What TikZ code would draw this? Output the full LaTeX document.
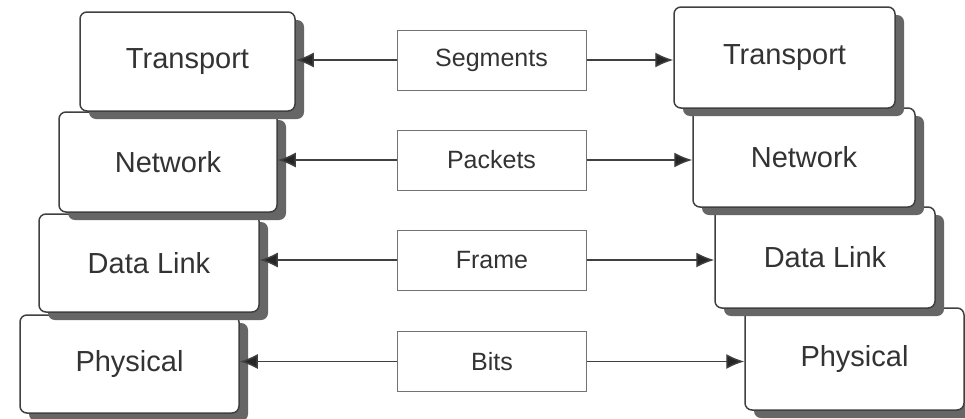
\documentclass[tikz,border=0pt]{standalone}
\usepackage{fontspec}
\setmainfont{Liberation Sans}
\usetikzlibrary{shadows,arrows.meta}
\begin{document}
\begin{tikzpicture}[x=1pt,y=-1pt,
  layer/.style={draw=black!75, line width=1.5pt, fill=white, rounded corners=7pt,
    drop shadow={shadow xshift=9pt, shadow yshift=-8pt, fill=black!60, opacity=1},
    font=\fontsize{29}{33}\selectfont, text=black!80, inner sep=0pt},
  pdu/.style={draw=black!55, line width=1pt, fill=white, minimum width=189pt, minimum height=60pt,
    font=\fontsize{25}{30}\selectfont, text=black!80, inner sep=0pt},
  link/.style={draw=black!75, line width=1.4pt, -{Latex[length=18pt,width=15pt,fill=black!85]}}]
\useasboundingbox (0,0) rectangle (965,418);
\fill[white] (0,0) rectangle (965,418);
% left stack (bottom first so upper shadows overlap lower boxes)
\node[layer, minimum width=219pt, minimum height=98pt] (PL) at (129.5,364) {Physical};
\node[layer, minimum width=220pt, minimum height=98pt] (DL) at (149,263) {Data Link};
\node[layer, minimum width=218pt, minimum height=100pt] (NL) at (168,162) {Network};
\node[layer, minimum width=215pt, minimum height=99pt] (TL) at (187.5,61.5) {Transport};
% right stack
\node[layer, minimum width=219pt, minimum height=102pt] (PR) at (854.5,359) {Physical};
\node[layer, minimum width=220pt, minimum height=101pt] (DR) at (825,257.5) {Data Link};
\node[layer, minimum width=222pt, minimum height=99pt] (NR) at (804,157.5) {Network};
\node[layer, minimum width=221pt, minimum height=101pt] (TR) at (784.5,57.5) {Transport};
% middle PDUs
\node[pdu] (seg) at (491.5,60) {Segments};
\node[pdu] (pkt) at (491.5,160) {Packets};
\node[pdu] (frm) at (492,260) {Frame};
\node[pdu] (bit) at (492,361.5) {Bits};
% connectors
\foreach \m/\l/\r in {seg/TL/TR, pkt/NL/NR, frm/DL/DR, bit/PL/PR}{
  \draw[link] (\m.west) -- (\m.west -| \l.east);
  \draw[link] (\m.east) -- (\m.east -| \r.west);
}
\end{tikzpicture}
\end{document}
